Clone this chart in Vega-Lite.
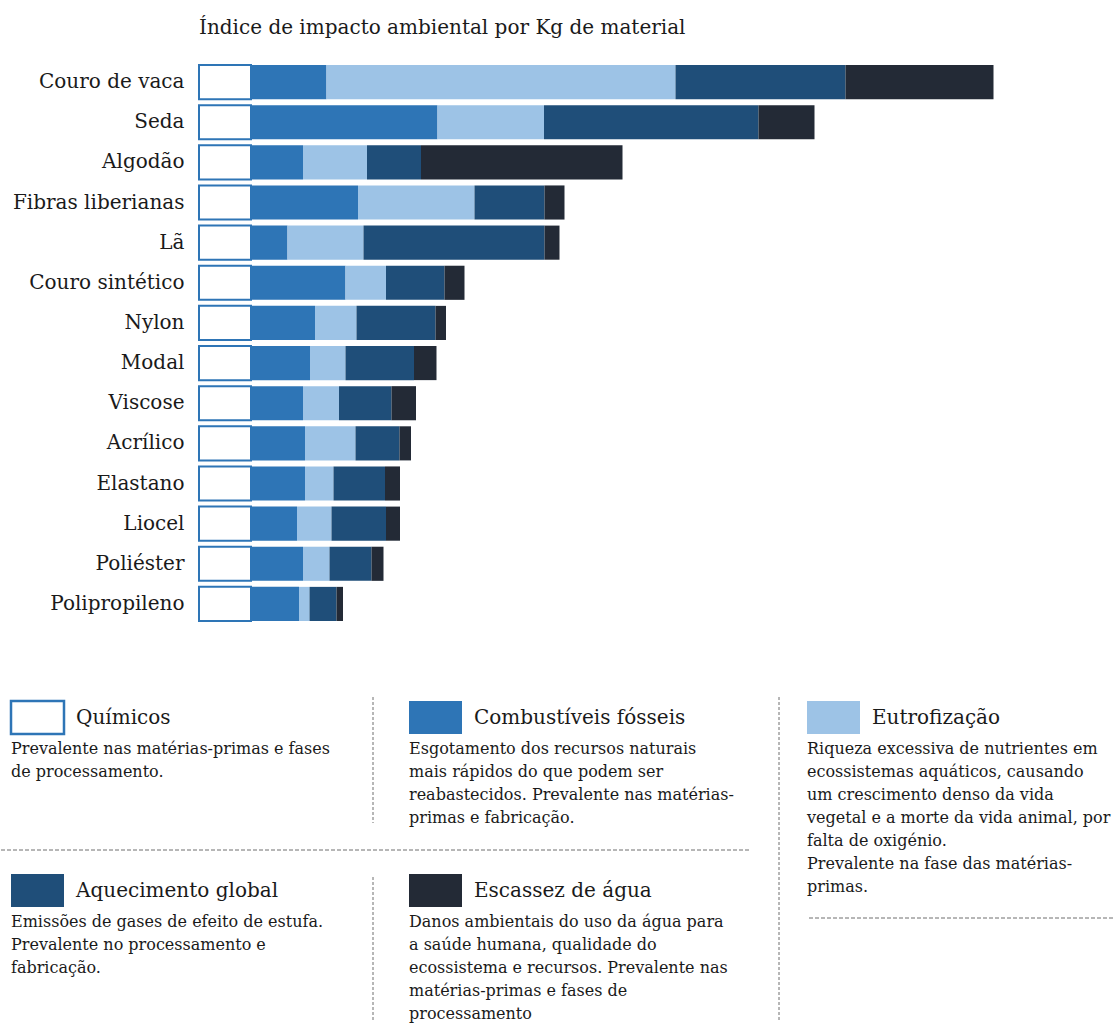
{
  "$schema": "https://vega.github.io/schema/vega-lite/v6.json",
  "width": 1115,
  "height": 1028,
  "autosize": {"type": "fit", "contains": "padding"},
  "padding": 0,
  "background": "white",
  "config": {"view": {"stroke": null}, "font": "DejaVu Serif"},
  "title": {
    "text": "Índice de impacto ambiental por Kg de material",
    "anchor": "start",
    "frame": "group",
    "dx": 198,
    "offset": -38,
    "fontSize": 20,
    "font": "DejaVu Serif",
    "fontWeight": "normal",
    "color": "#1a1a1a"
  },
  "datasets": {
    "materiais": [
      {"material": "Couro de vaca", "Químicos": 52, "Combustíveis fósseis": 75.5, "Eutrofização": 349, "Aquecimento global": 170, "Escassez de água": 148},
      {"material": "Seda", "Químicos": 52, "Combustíveis fósseis": 186.5, "Eutrofização": 106.5, "Aquecimento global": 214.5, "Escassez de água": 56},
      {"material": "Algodão", "Químicos": 52, "Combustíveis fósseis": 52, "Eutrofização": 64, "Aquecimento global": 54, "Escassez de água": 201.5},
      {"material": "Fibras liberianas", "Químicos": 52, "Combustíveis fósseis": 107, "Eutrofização": 116.5, "Aquecimento global": 70, "Escassez de água": 20},
      {"material": "Lã", "Químicos": 52, "Combustíveis fósseis": 36.5, "Eutrofização": 76, "Aquecimento global": 181, "Escassez de água": 15},
      {"material": "Couro sintético", "Químicos": 52, "Combustíveis fósseis": 94.5, "Eutrofização": 40.5, "Aquecimento global": 58.5, "Escassez de água": 20},
      {"material": "Nylon", "Químicos": 52, "Combustíveis fósseis": 64, "Eutrofização": 41.5, "Aquecimento global": 79, "Escassez de água": 10.5},
      {"material": "Modal", "Químicos": 52, "Combustíveis fósseis": 59, "Eutrofização": 35.5, "Aquecimento global": 68.5, "Escassez de água": 22.5},
      {"material": "Viscose", "Químicos": 52, "Combustíveis fósseis": 52, "Eutrofização": 36, "Aquecimento global": 52.5, "Escassez de água": 24.5},
      {"material": "Acrílico", "Químicos": 52, "Combustíveis fósseis": 54, "Eutrofização": 50.5, "Aquecimento global": 44, "Escassez de água": 11.5},
      {"material": "Elastano", "Químicos": 52, "Combustíveis fósseis": 54, "Eutrofização": 28.5, "Aquecimento global": 51.5, "Escassez de água": 15},
      {"material": "Liocel", "Químicos": 52, "Combustíveis fósseis": 46, "Eutrofização": 34.5, "Aquecimento global": 54.5, "Escassez de água": 14},
      {"material": "Poliéster", "Químicos": 52, "Combustíveis fósseis": 52, "Eutrofização": 26.5, "Aquecimento global": 42, "Escassez de água": 12},
      {"material": "Polipropileno", "Químicos": 52, "Combustíveis fósseis": 48, "Eutrofização": 10.5, "Aquecimento global": 27, "Escassez de água": 6.5}
    ],
    "legenda": [
      {"impact": "Químicos", "ordem": 1, "col": 0, "blk": 0, "desc": "Prevalente nas matérias-primas e fases\nde processamento."},
      {"impact": "Combustíveis fósseis", "ordem": 2, "col": 1, "blk": 0, "desc": "Esgotamento dos recursos naturais\nmais rápidos do que podem ser\nreabastecidos. Prevalente nas matérias-\nprimas e fabricação."},
      {"impact": "Eutrofização", "ordem": 3, "col": 2, "blk": 0, "desc": "Riqueza excessiva de nutrientes em\necossistemas aquáticos, causando\num crescimento denso da vida\nvegetal e a morte da vida animal, por\nfalta de oxigénio.\nPrevalente na fase das matérias-\nprimas."},
      {"impact": "Aquecimento global", "ordem": 4, "col": 0, "blk": 1, "desc": "Emissões de gases de efeito de estufa.\nPrevalente no processamento e\nfabricação."},
      {"impact": "Escassez de água", "ordem": 5, "col": 1, "blk": 1, "desc": "Danos ambientais do uso da água para\na saúde humana, qualidade do\necossistema e recursos. Prevalente nas\nmatérias-primas e fases de\nprocessamento"}
    ]
  },
  "layer": [
    {
      "data": {"name": "materiais"},
      "transform": [
        {"fold": ["Químicos", "Combustíveis fósseis", "Eutrofização", "Aquecimento global", "Escassez de água"], "as": ["impact", "valor"]},
        {"lookup": "impact", "from": {"data": {"name": "legenda"}, "key": "impact", "fields": ["ordem"]}}
      ],
      "mark": {"type": "bar", "stroke": "#2e75b6"},
      "encoding": {
        "y": {
          "field": "material",
          "type": "nominal",
          "sort": null,
          "scale": {"range": [62, 624], "paddingInner": 0.15, "paddingOuter": 0.075},
          "axis": {
            "orient": "left",
            "offset": -198,
            "domain": false,
            "ticks": false,
            "tickSize": 0,
            "labelPadding": 15,
            "labelFontSize": 20,
            "labelFont": "DejaVu Serif",
            "labelColor": "#1a1a1a",
            "labelLimit": 0,
            "title": null
          }
        },
        "x": {
          "field": "valor",
          "type": "quantitative",
          "stack": "zero",
          "scale": {"domain": [0, 900], "range": [198, 1098], "nice": false},
          "axis": null
        },
        "order": {"field": "ordem", "type": "quantitative", "sort": "ascending"},
        "color": {
          "field": "impact",
          "type": "nominal",
          "scale": {
            "domain": ["Químicos", "Combustíveis fósseis", "Eutrofização", "Aquecimento global", "Escassez de água"],
            "range": ["#ffffff", "#2e75b6", "#9dc3e6", "#1f4e79", "#232a36"]
          },
          "legend": null
        },
        "strokeWidth": {"condition": {"test": "datum.impact === 'Químicos'", "value": 2}, "value": 0}
      }
    },
    {
      "data": {"name": "legenda"},
      "encoding": {
        "x": {"field": "col", "type": "quantitative", "scale": {"domain": [0, 2], "range": [10, 806], "nice": false, "zero": false}, "axis": null},
        "y": {"field": "blk", "type": "quantitative", "scale": {"domain": [0, 1], "range": [718, 891], "nice": false, "zero": false}, "axis": null}
      },
      "layer": [
        {
          "mark": {"type": "rect", "x2Offset": 53, "yOffset": -17, "y2Offset": 16, "stroke": "#2e75b6"},
          "encoding": {
            "x2": {"field": "col"},
            "y2": {"field": "blk"},
            "color": {"field": "impact", "type": "nominal", "legend": null},
            "strokeWidth": {"condition": {"test": "datum.impact === 'Químicos'", "value": 2.5}, "value": 0}
          }
        },
        {
          "mark": {"type": "text", "align": "left", "baseline": "middle", "dx": 65, "fontSize": 20, "font": "DejaVu Serif", "color": "#1a1a1a"},
          "encoding": {"text": {"field": "impact", "type": "nominal"}}
        },
        {
          "mark": {"type": "text", "align": "left", "baseline": "top", "dy": 23, "fontSize": 16, "font": "DejaVu Serif", "lineBreak": "\n", "lineHeight": 23, "color": "#1a1a1a"},
          "encoding": {"text": {"field": "desc", "type": "nominal"}}
        },
        {
          "transform": [{"filter": "datum.impact === 'Químicos'"}],
          "mark": {"type": "rule", "stroke": "#6f6f6f", "strokeWidth": 1, "strokeDash": [4, 2], "yOffset": 132, "xOffset": -10, "x2Offset": 740},
          "encoding": {"x2": {"field": "col"}}
        },
        {
          "transform": [{"filter": "datum.impact === 'Eutrofização'"}],
          "mark": {"type": "rule", "stroke": "#6f6f6f", "strokeWidth": 1, "strokeDash": [4, 2], "yOffset": 200, "xOffset": 2, "x2Offset": 307},
          "encoding": {"x2": {"field": "col"}}
        },
        {
          "transform": [{"filter": "datum.impact === 'Combustíveis fósseis'"}],
          "mark": {"type": "rule", "stroke": "#6f6f6f", "strokeWidth": 1, "strokeDash": [3, 2], "xOffset": -36, "yOffset": -21, "y2Offset": 105},
          "encoding": {"y2": {"field": "blk"}}
        },
        {
          "transform": [{"filter": "datum.impact === 'Escassez de água'"}],
          "mark": {"type": "rule", "stroke": "#6f6f6f", "strokeWidth": 1, "strokeDash": [3, 2], "xOffset": -36, "yOffset": -14, "y2Offset": 129},
          "encoding": {"y2": {"field": "blk"}}
        },
        {
          "transform": [{"filter": "datum.impact === 'Eutrofização'"}],
          "mark": {"type": "rule", "stroke": "#6f6f6f", "strokeWidth": 1, "strokeDash": [3, 2], "xOffset": -28, "yOffset": -21, "y2Offset": 302},
          "encoding": {"y2": {"field": "blk"}}
        }
      ]
    }
  ],
  "resolve": {"scale": {"x": "independent", "y": "independent"}}
}
